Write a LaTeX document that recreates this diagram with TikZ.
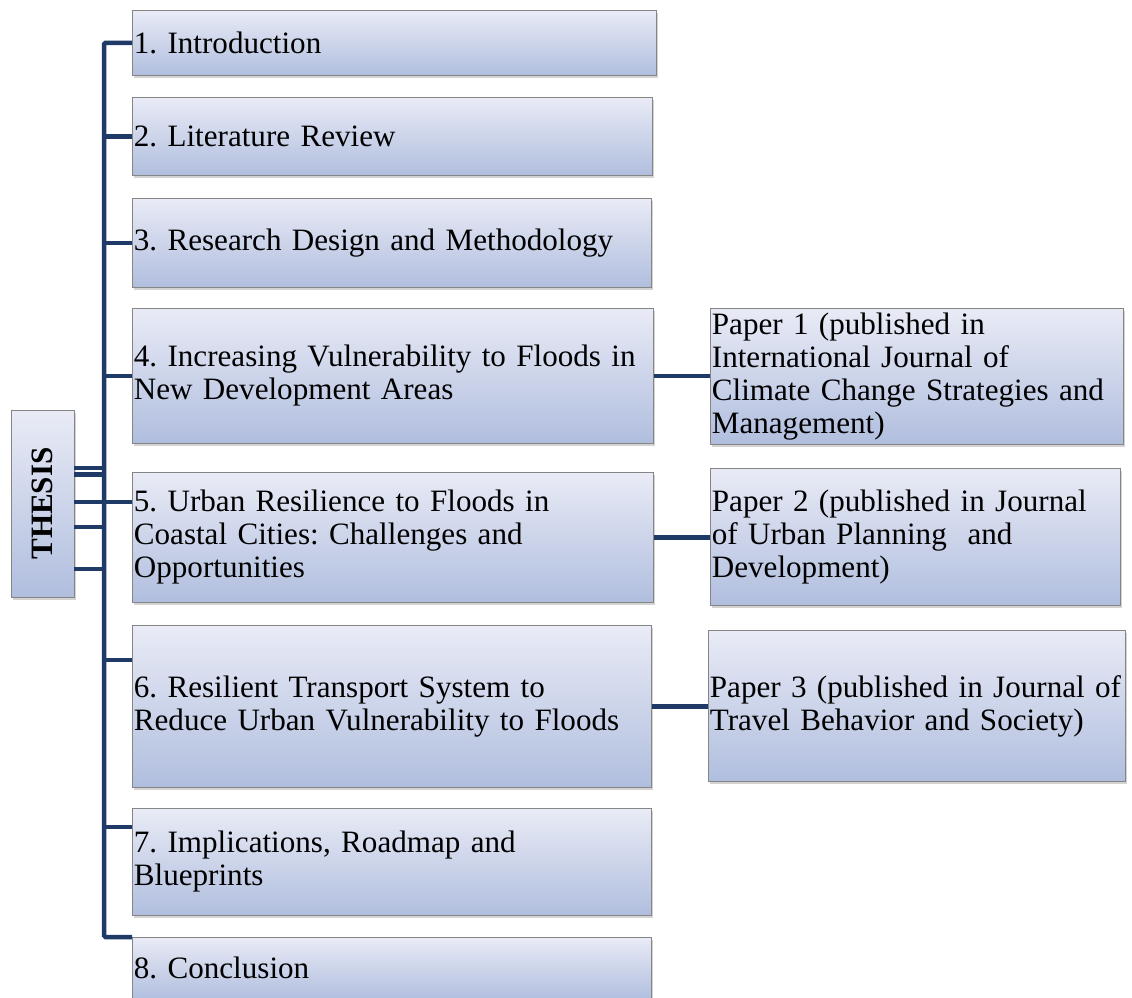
\documentclass[tikz,border=0pt]{standalone}
\usepackage{fontspec}
\setmainfont{Liberation Serif}
\usetikzlibrary{shadows}
\definecolor{linec}{HTML}{1F3A66}
\definecolor{boxtop}{HTML}{E9EBF6}
\definecolor{boxbot}{HTML}{B0BEDE}
\definecolor{boxborder}{HTML}{858585}
\newcommand\boxfont{\fontsize{31.1}{33}\selectfont\frenchspacing}
\tikzset{
  box/.style={draw=boxborder, line width=0.8pt, top color=boxtop, bottom color=boxbot,
    inner xsep=1.5pt, inner ysep=0pt, anchor=north west, align=left, font=\boxfont,
    drop shadow={shadow xshift=1.5pt, shadow yshift=-2.5pt, opacity=0.35}},
  conn/.style={draw=linec, line width=4.5pt},
}
\begin{document}
\begin{tikzpicture}[x=1pt,y=-1pt]
\useasboundingbox (0,0) rectangle (1132,997);
% left column
\node[box, minimum width=524, minimum height=65, text width=521] (b1) at (132,10) {1. Introduction};
\node[box, minimum width=520, minimum height=78, text width=517] (b2) at (132,97) {2. Literature Review};
\node[box, minimum width=519, minimum height=89, text width=516] (b3) at (132,198) {3. Research Design and Methodology};
\node[box, minimum width=521, minimum height=135, text width=518] (b4) at (132,308) {\mbox{4. Increasing Vulnerability to Floods in}\\New Development Areas};
\node[box, minimum width=521, minimum height=130, text width=518] (b5) at (132,472) {5. Urban Resilience to Floods in\\Coastal Cities: Challenges and\\Opportunities};
\node[box, minimum width=519, minimum height=162, text width=516] (b6) at (132,625) {6. Resilient Transport System to\\\mbox{Reduce Urban Vulnerability to Floods}};
\node[box, minimum width=519, minimum height=107, text width=516] (b7) at (132,808) {7. Implications, Roadmap and\\Blueprints};
\node[box, minimum width=519, minimum height=62, text width=516] (b8) at (132,937) {8. Conclusion};
% papers
\node[box, minimum width=413, minimum height=136, text width=410] (p1) at (710,308) {Paper 1 (published in\\International Journal of\\\mbox{Climate Change Strategies and}\\Management)};
\node[box, minimum width=410, minimum height=137, text width=407] (p2) at (710,468) {\mbox{Paper 2 (published in Journal}\\of Urban Planning\ \ and\\Development)};
\node[box, minimum width=417, minimum height=151, text width=414] (p3) at (708,630) {\mbox{Paper 3 (published in Journal of}\\Travel Behavior and Society)};
% thesis
\node[box, anchor=center, align=center, rotate=90, minimum width=187, minimum height=63, font=\boxfont\bfseries] (th) at (42.5,503.5) {THESIS};
% spine
\coordinate (sB) at (104,937);
\coordinate (t5) at (104,502);
\coordinate (t6) at (104,660);
\coordinate (t7) at (104,827);
\coordinate (tA) at (104,468);
\coordinate (tB) at (104,474.5);
\coordinate (tC) at (104,527);
\coordinate (tD) at (104,569);
\draw[conn, rounded corners=1.5pt] (b1.west) -| (sB) -- (sB -| b8.west);
\draw[conn] (b2.west) -- (b2.west -| sB);
\draw[conn] (b3.west) -- (b3.west -| sB);
\draw[conn] (b4.west) -- (b4.west -| sB);
\draw[conn] (t5 -| th.south) -- (t5 -| b5.west);
\draw[conn] (t6) -- (t6 -| b6.west);
\draw[conn] (t7) -- (t7 -| b7.west);
\draw[conn] (tA -| th.south) -- (tA);
\draw[conn] (tB -| th.south) -- (tB);
\draw[conn] (tC -| th.south) -- (tC);
\draw[conn] (tD -| th.south) -- (tD);
% paper connectors
\draw[conn] (b4.east) -- (b4.east -| p1.west);
\draw[conn] (b5.east) -- (b5.east -| p2.west);
\draw[conn] (b6.east) -- (b6.east -| p3.west);
\end{tikzpicture}
\end{document}
